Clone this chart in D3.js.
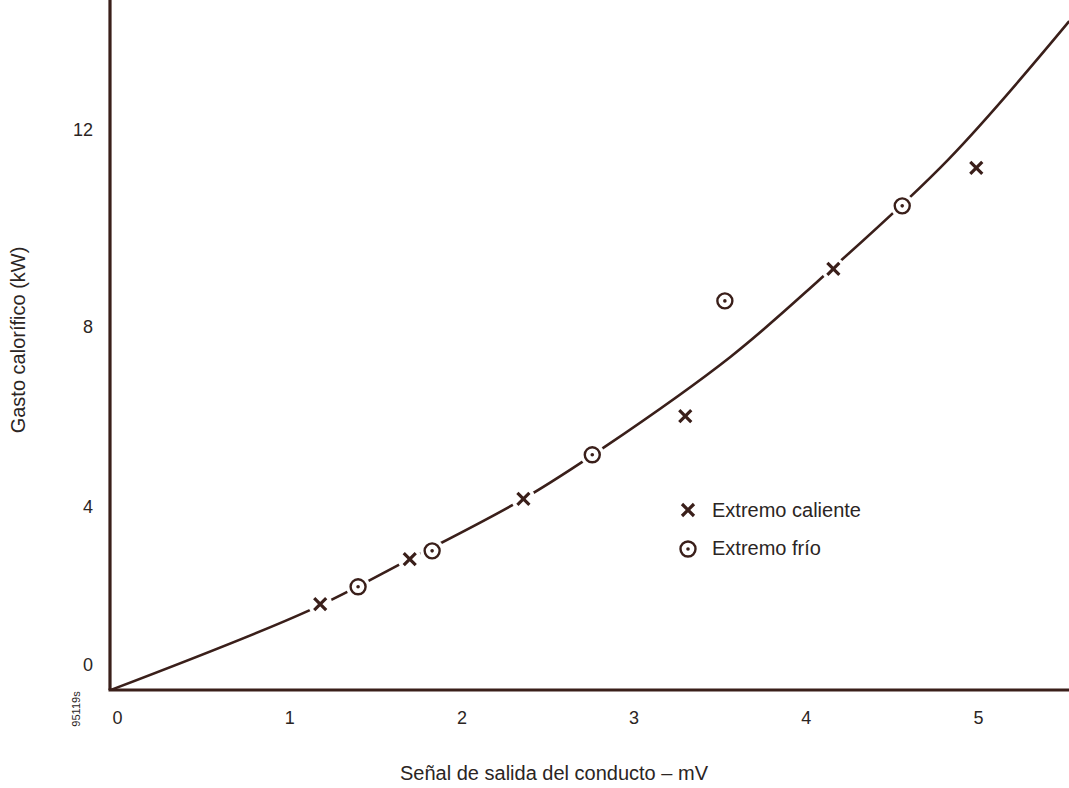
<!DOCTYPE html>
<html>
<head>
    <title>Gasto calorífico</title>
    <script src="https://d3js.org/d3.v7.min.js"></script>
    <style>
        body { margin: 0; background: #fff; }
        text { font-family: "Liberation Sans", Arial, sans-serif; fill: #2b2523; }
    </style>
</head>
<body>

<script>
// tick labels
const xTicks = [0, 1, 2, 3, 4, 5];
const yTicks = [0, 4, 8, 12];

// Extremo caliente (x)
const hotX = [1.18, 1.70, 2.36, 3.30, 4.16, 4.99];
const hotY = [1.54, 2.68, 4.18, 6.02, 9.18, 11.23];

// Extremo frío (circle with dot)
const coldX = [1.40, 1.83, 2.76, 3.53, 4.56];
const coldY = [1.98, 2.89, 5.16, 8.53, 10.46];

// fitted curve
const curveX = [-0.035, 1.12, 1.70, 2.36, 2.83, 3.56, 4.07, 4.83, 5.53];
const curveY = [-0.63, 1.39, 2.68, 4.18, 5.33, 7.33, 8.93, 11.41, 14.21];

const width = 1069, height = 788;
const ink = '#3a1f1a';

const svg = d3.select('body')
    .append('svg')
    .attr('width', width)
    .attr('height', height);

const x = d3.scaleLinear().domain([0, 5]).range([117, 978]);
// the scanned axis is slightly uneven, so the y scale follows the printed labels
const y = d3.scaleLinear().domain([0, 4, 8, 12]).range([665, 507, 327, 130]);

const x0 = 110, y0 = 690;

// curve
const line = d3.line()
    .x(d => x(d[0]))
    .y(d => y(d[1]))
    .curve(d3.curveCatmullRom);

svg.append('path')
    .datum(d3.zip(curveX, curveY))
    .attr('d', line)
    .attr('fill', 'none')
    .attr('stroke', ink)
    .attr('stroke-width', 2.6);

// axes lines
svg.append('line')
    .attr('x1', x0).attr('x2', x0)
    .attr('y1', 0).attr('y2', y0)
    .attr('stroke', ink).attr('stroke-width', 3.2);
svg.append('line')
    .attr('x1', x0 - 1.5).attr('x2', width)
    .attr('y1', y0).attr('y2', y0)
    .attr('stroke', ink).attr('stroke-width', 3.2);

// tick labels
const xAxis = svg.append('g')
    .attr('transform', `translate(0,${y0})`)
    .call(d3.axisBottom(x).tickValues(xTicks).tickFormat(d3.format('d')).tickSize(0).tickPadding(21));
xAxis.select('.domain').remove();
xAxis.selectAll('text')
    .style('font-family', '"Liberation Sans", Arial, sans-serif')
    .style('font-size', '18px')
    .attr('fill', '#2b2523');

const yAxis = svg.append('g')
    .attr('transform', `translate(${x0},0)`)
    .call(d3.axisLeft(y).tickValues(yTicks).tickFormat(d3.format('d')).tickSize(0).tickPadding(17));
yAxis.select('.domain').remove();
yAxis.selectAll('text')
    .style('font-family', '"Liberation Sans", Arial, sans-serif')
    .style('font-size', '18px')
    .attr('fill', '#2b2523');

// marker drawing
function drawCross(g, cx, cy) {
    const s = 6;
    g.append('path')
        .attr('d', `M${cx - s},${cy - s}L${cx + s},${cy + s}M${cx - s},${cy + s}L${cx + s},${cy - s}`)
        .attr('stroke', ink)
        .attr('stroke-width', 3.2)
        .attr('stroke-linecap', 'butt');
}
function drawRing(g, cx, cy) {
    g.append('circle')
        .attr('cx', cx).attr('cy', cy).attr('r', 7.5)
        .attr('fill', 'none')
        .attr('stroke', ink)
        .attr('stroke-width', 2.4);
    g.append('circle')
        .attr('cx', cx).attr('cy', cy).attr('r', 1.8)
        .attr('fill', ink);
}

const marks = svg.append('g');
// white gaps in the curve around each point
d3.zip(hotX, hotY).concat(d3.zip(coldX, coldY)).forEach(d => {
    marks.append('circle')
        .attr('cx', x(d[0])).attr('cy', y(d[1])).attr('r', 12)
        .attr('fill', '#fff');
});
d3.zip(hotX, hotY).forEach(d => drawCross(marks, x(d[0]), y(d[1])));
d3.zip(coldX, coldY).forEach(d => drawRing(marks, x(d[0]), y(d[1])));

// legend
const legend = svg.append('g');
drawCross(legend, 688, 510);
drawRing(legend, 688, 549);
legend.append('text')
    .attr('x', 712).attr('y', 510).attr('dy', '0.35em')
    .style('font-size', '20px')
    .text('Extremo caliente');
legend.append('text')
    .attr('x', 712).attr('y', 548).attr('dy', '0.35em')
    .style('font-size', '20px')
    .text('Extremo frío');

// axis titles
svg.append('text')
    .attr('x', 554).attr('y', 780)
    .attr('text-anchor', 'middle')
    .style('font-size', '20px')
    .text('Señal de salida del conducto – mV');

svg.append('text')
    .attr('transform', 'translate(25,340) rotate(-90)')
    .attr('text-anchor', 'middle')
    .style('font-size', '20px')
    .text('Gasto calorífico (kW)');

svg.append('text')
    .attr('transform', 'translate(80,709) rotate(-90)')
    .attr('text-anchor', 'middle')
    .style('font-size', '11px')
    .text('95119s');
</script>

</body>
</html>
